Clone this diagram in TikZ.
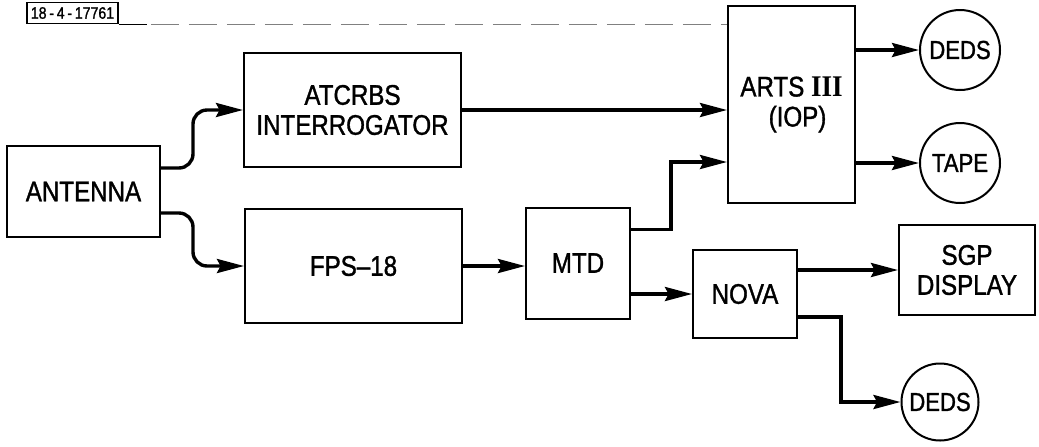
\documentclass[tikz,border=0pt]{standalone}
\usepackage{fontspec}
\setmainfont{Liberation Sans}[FakeStretch=0.85, FakeBold=1.2]
\newfontfamily\numeralfont{Liberation Serif}[FakeStretch=0.9]
\usetikzlibrary{arrows.meta}
\tikzset{
  box/.style={draw, line width=1pt, align=center, inner sep=2pt,
              font=\fontsize{14.2}{15}\selectfont},
  sink/.style={draw, circle, line width=1pt, minimum size=40pt, inner sep=0pt,
               font=\fontsize{13}{15}\selectfont},
  flow/.style={line width=1.7pt, -{Stealth[length=13.5pt,width=7pt,inset=1.8pt]}},
}

\begin{document}
\begin{tikzpicture}[x=0.5pt, y=-0.5pt]
        \useasboundingbox (0,0) rectangle (1039,446);

        \node (lbl)   [draw, line width=0.8pt, minimum width=45.5pt, minimum height=10.5pt,
                       inner sep=0.5pt, font=\fontsize{8.3}{9}\selectfont] at (72.5,13) {18\,-\,4\,-\,17761};

        \node (ant)   [box, minimum width=76.5pt,  minimum height=45.5pt] at (83.5,191.5) {ANTENNA};
        \node (atc)   [box, minimum width=108.5pt, minimum height=57pt]   at (352.5,110)  {ATCRBS\\INTERROGATOR};
        \node (fps)   [box, minimum width=108.5pt, minimum height=57pt]   at (353.5,266)  {FPS--18};
        \node (mtd)   [box, minimum width=52pt,    minimum height=55.5pt] at (578,263)    {MTD};
        \node (arts)  [box, minimum width=63.5pt,  minimum height=98.5pt] at (791.5,104.5)
                      {ARTS {\numeralfont\bfseries\fontsize{15}{15}\selectfont III}\\\hspace*{6pt}(IOP)};
        \node (nova)  [box, minimum width=52pt,    minimum height=44pt]   at (745,294)    {NOVA};
        \node (sgp)   [box, minimum width=68pt,    minimum height=45pt]   at (967,270)    {SGP\\DISPLAY};
        \node (deds1) [sink] at (960,50)  {DEDS};
        \node (tape)  [sink] at (960,163) {TAPE};
        \node (deds2) [sink, minimum size=38.5pt] at (940,402) {DEDS};

        \coordinate (hdr) at (lbl.south east -| arts.west);
        \coordinate (in2) at ([yshift=-28.75pt]arts.west);

        % header rule
        \draw[line width=0.8pt] (lbl.south east) -- ++(14pt,0);
        \draw[line width=0.6pt, gray, dash pattern=on 14pt off 5pt] ([xshift=16pt]lbl.south east) -- (hdr);

        % antenna feeds
        \draw[flow, rounded corners=7pt] ([yshift=11.75pt]ant.east)  -- ++(16pt,0) |- (atc);
        \draw[flow, rounded corners=7pt] ([yshift=-10.75pt]ant.east) -- ++(16pt,0) |- (fps);

        \draw[flow] (atc) -- (atc -| arts.west);
        \draw[flow] (fps) -- (fps -| mtd.west);
        \draw[flow] ([yshift=16.75pt]mtd.east) -| ([xshift=-28pt]in2) -- (in2);
        \draw[flow] (mtd.east |- nova) -- (nova);

        \draw[flow] (arts.east |- deds1) -- (deds1);
        \draw[flow] (arts.east |- tape)  -- (tape);

        \draw[flow] (nova.east |- sgp) -- (sgp);
        \draw[flow] ([yshift=-11.5pt]nova.east) -- ++(21.5pt,0) |- (deds2);
      \end{tikzpicture}
\end{document}
